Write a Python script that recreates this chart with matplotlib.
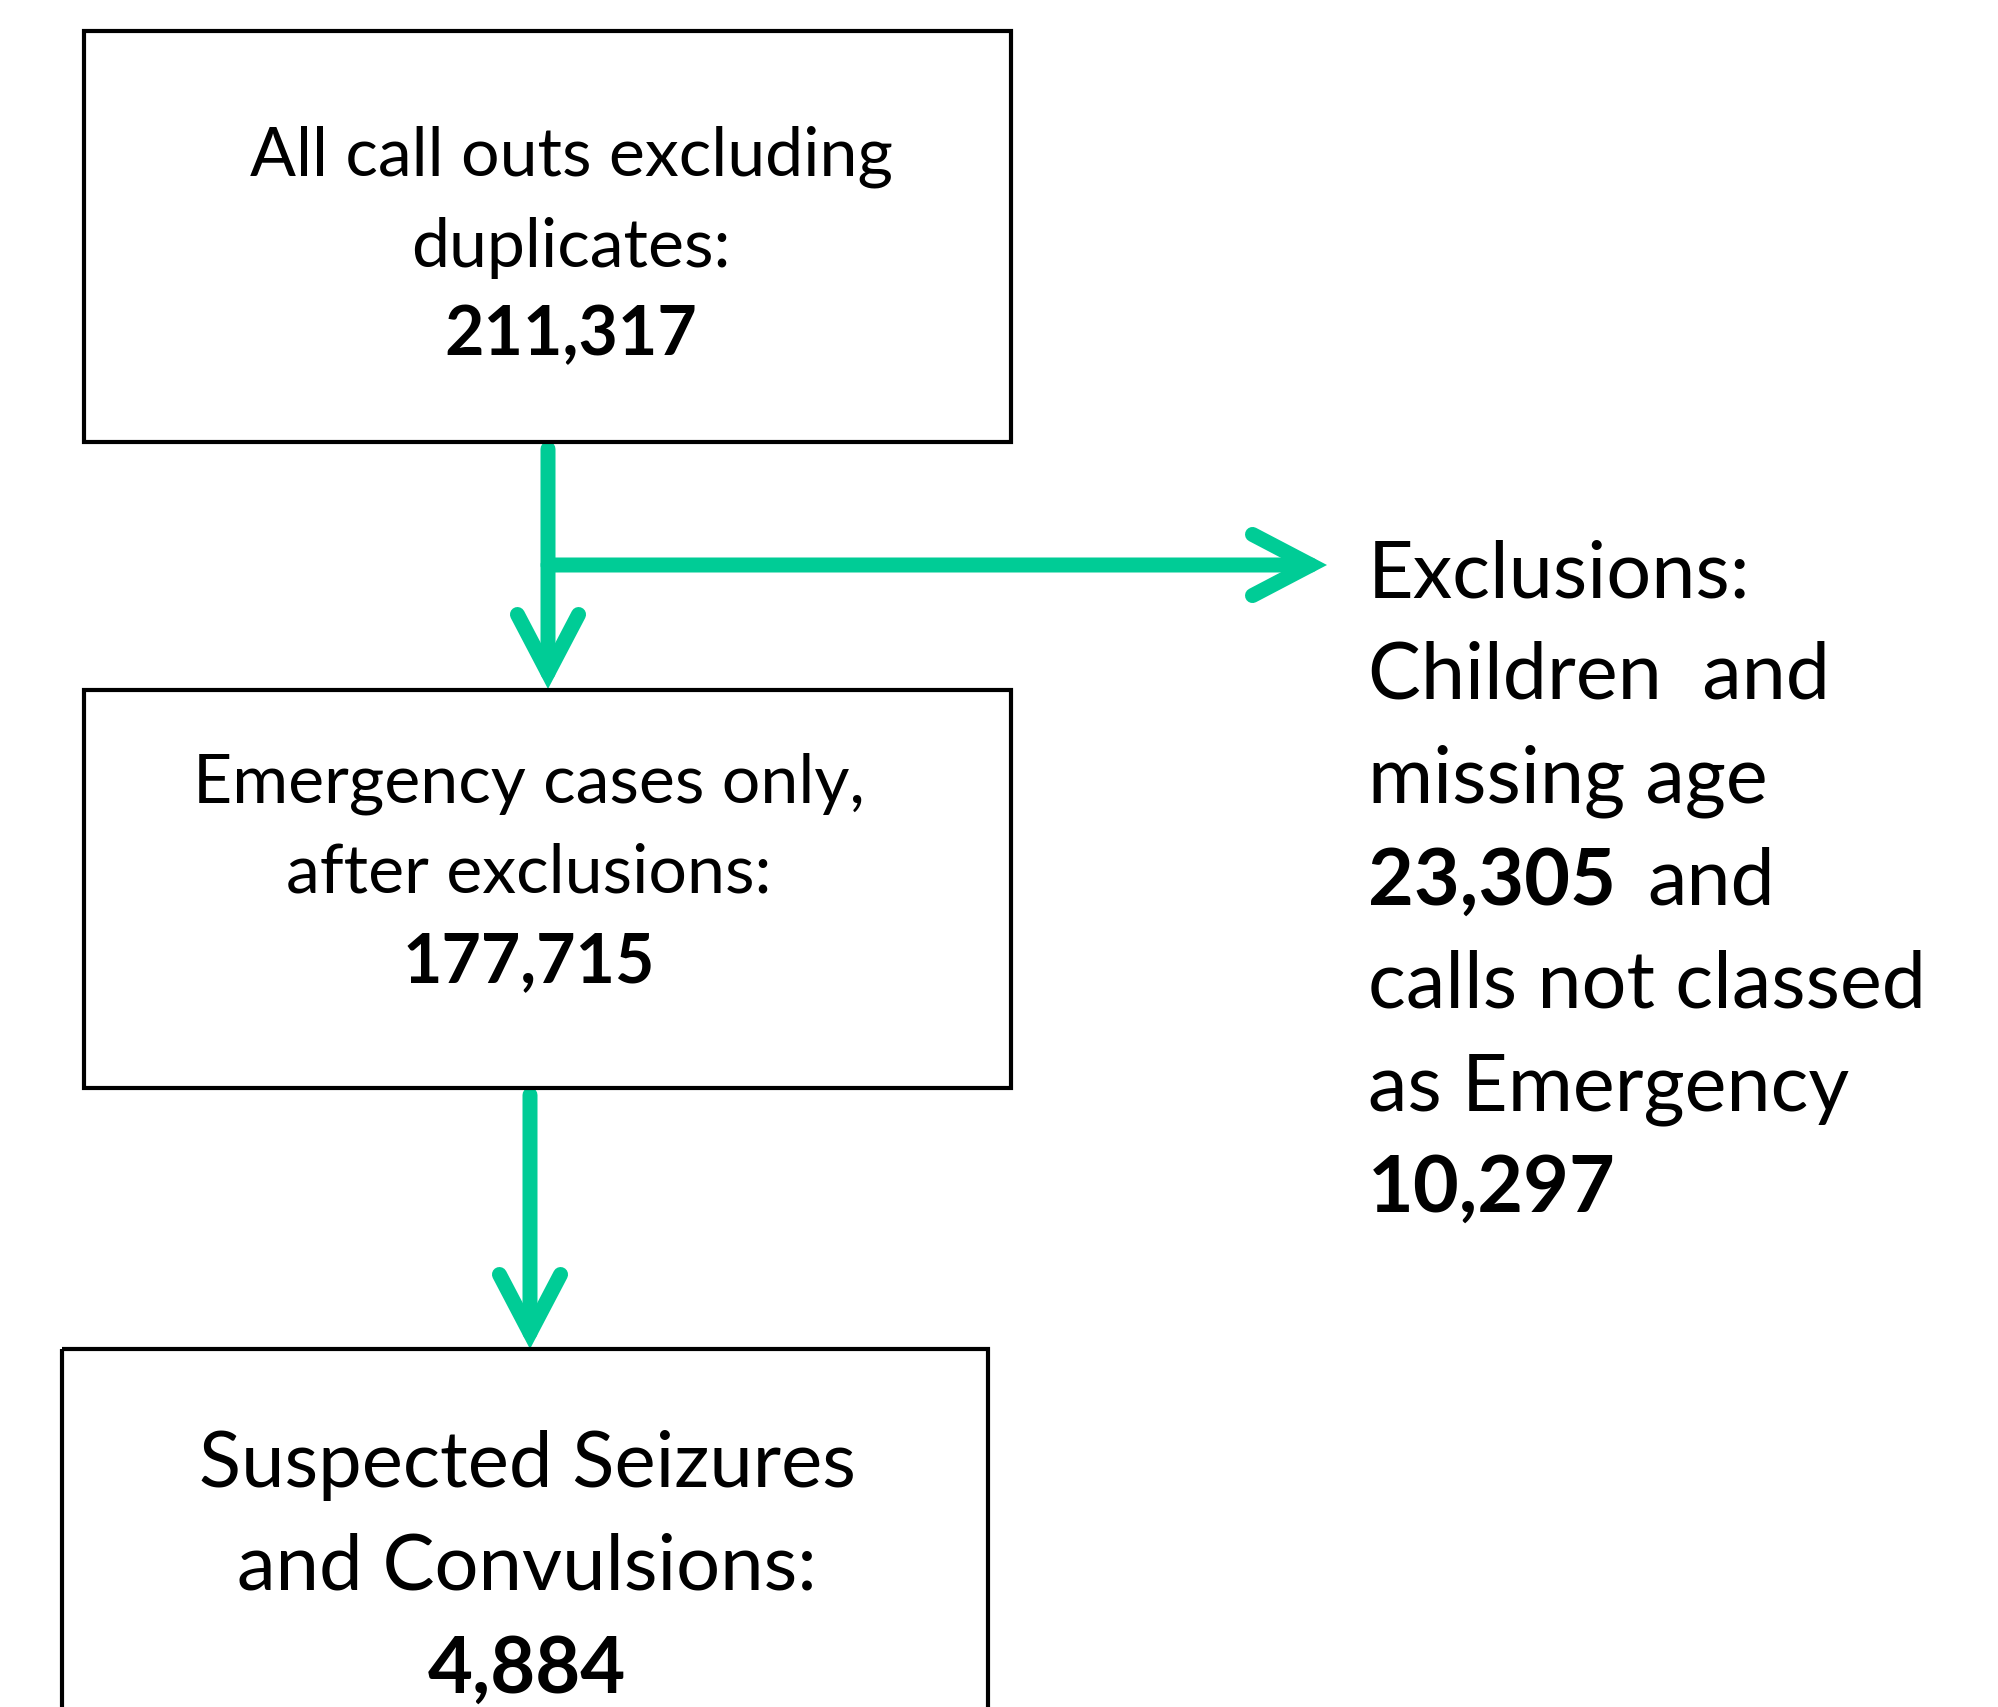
import matplotlib.pyplot as plt
from matplotlib.patches import Rectangle, FancyArrowPatch, ArrowStyle

plt.rcParams['font.family'] = ['Lato', 'DejaVu Sans']

# flowchart content
box_text = [["All call outs excluding", "duplicates:"],
            ["Emergency cases only,", "after exclusions:"],
            ["Suspected Seizures", "and Convulsions:"]]
box_counts = ["211,317", "177,715", "4,884"]
excl_text = ["Exclusions:", "Children  and", "missing age"]
excl_children = "23,305"
excl_emergency_text = ["calls not classed", "as Emergency"]
excl_emergency = "10,297"

# layout (pixels)
boxes = [(84, 32, 1011, 443), (84, 691, 1011, 1089), (62, 1350, 988, 1760)]
box_text_x = [571, 529, 527]
box_baselines = [[175, 267, 355], [803, 893, 982], [1487, 1590, 1693]]
box_fontsize = [49, 49, 56]
excl_x = 1368
excl_baselines = [598, 699, 802, 905, 1008, 1110, 1212]
excl_fontsize = 57
green = "#00CC96"

fig = plt.figure(figsize=(19.99, 17.08), dpi=100)
ax = fig.add_axes([0, 0, 1, 1])
ax.set_xlim(0, 1999)
ax.set_ylim(1708, 0)
ax.axis("off")

for (x0, y0, x1, y1) in boxes:
    ax.add_patch(Rectangle((x0, y0), x1 - x0, y1 - y0, fill=False,
                           edgecolor="black", linewidth=3.0, joinstyle="miter", zorder=3))

for i in range(3):
    lines = box_text[i] + [box_counts[i]]
    for j, s in enumerate(lines):
        ax.text(box_text_x[i], box_baselines[i][j], s, ha="center", va="baseline",
                fontsize=box_fontsize[i], fontweight="bold" if j == 2 else "normal")

# exclusions text
excl_rows = excl_text + [None] + excl_emergency_text + [excl_emergency]
for j, s in enumerate(excl_rows):
    if s is None:
        t = ax.text(excl_x, excl_baselines[j], excl_children, ha="left", va="baseline",
                    fontsize=excl_fontsize, fontweight="bold")
        ax.annotate("and", xy=(1, 0), xycoords=t, xytext=(31, 0),
                    textcoords="offset pixels", ha="left", va="bottom",
                    fontsize=excl_fontsize)
    else:
        ax.text(excl_x, excl_baselines[j], s, ha="left", va="baseline",
                fontsize=excl_fontsize,
                fontweight="bold" if s == excl_emergency else "normal")

# arrows
style = ArrowStyle("->", head_length=42, head_width=22)
arrows = [((548, 450), (548, 690)), ((548, 566), (1327, 566)), ((530, 1096), (530, 1350))]
for start, end in arrows:
    ar = FancyArrowPatch(start, end, arrowstyle=style, mutation_scale=1,
                         color=green, linewidth=10.8, shrinkA=0, shrinkB=0,
                         capstyle="round", joinstyle="miter", zorder=2)
    ax.add_patch(ar)

fig.savefig("out.png", dpi=100)
